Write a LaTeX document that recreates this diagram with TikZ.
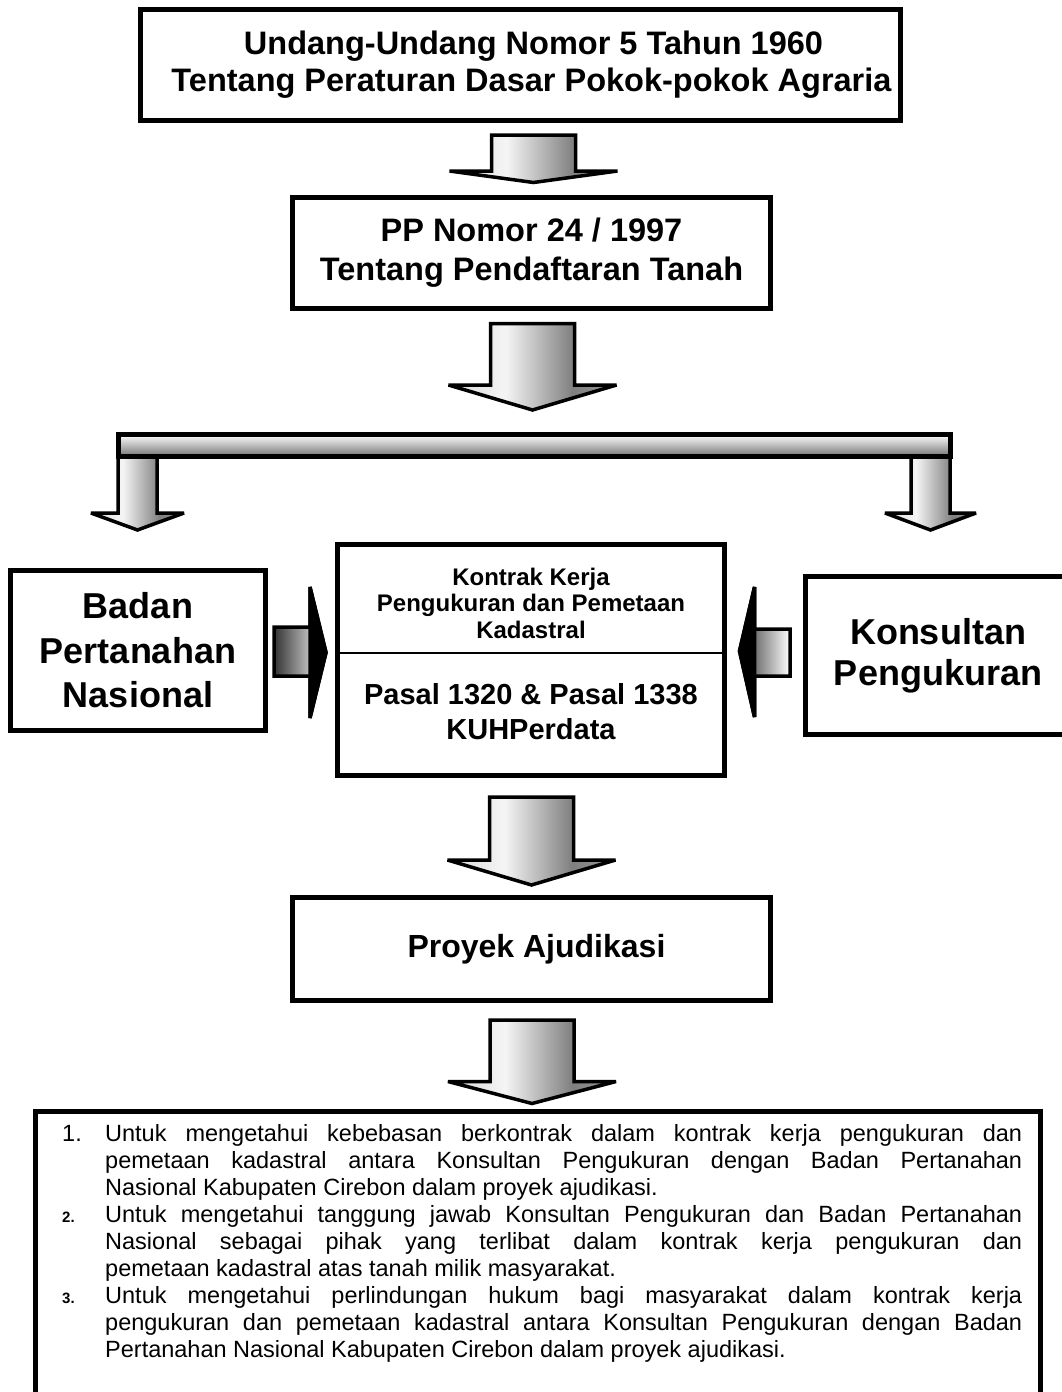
\documentclass[tikz,border=0pt]{standalone}
\usepackage{fontspec}
\setmainfont{Liberation Sans}
\usetikzlibrary{calc}

\pgfdeclarehorizontalshading{panahturun}{100bp}{color(0bp)=(black!15); color(25bp)=(black!15); color(42bp)=(black!4); color(62bp)=(black!50); color(75bp)=(black!40); color(100bp)=(black!40)}

\tikzset{
  kotak/.style={draw, line width=5pt, inner sep=0pt, align=center},
  panah/.style={draw, line width=3.5pt, line join=miter, miter limit=4, shade, shading=panahturun},
  panahsamping/.style={draw, line width=3.5pt, line join=miter, miter limit=4, left color=black!80, right color=white},
  kepala/.style={draw, fill=black, line width=3.5pt, line join=miter, miter limit=4},
}

% #1 asal, #2 tujuan, #3 jarak atas, #4 tinggi kepala, #5 jarak ujung, #6 geser x
\newcommand{\panahbawah}[6]{%
  \draw[panah] ($(#2.north |- #1.south)+(#6-42,#3)$) -- ($(#2.north |- #1.south)+(#6+42,#3)$)
    -- ($(#2.north)+(#6+42,-#5-#4)$) -- ($(#2.north)+(#6+84,-#5-#4)$) -- ($(#2.north)+(#6,-#5)$)
    -- ($(#2.north)+(#6-84,-#5-#4)$) -- ($(#2.north)+(#6-42,-#5-#4)$) -- cycle;}

\newcommand{\butir}[2]{\noindent\hangindent=43pt\hangafter=1\makebox[43pt][l]{#1}#2\par}

\begin{document}
\begin{tikzpicture}[x=1pt,y=-1pt]
\useasboundingbox (0,0) rectangle (1062,1392);

\node[kotak, minimum width=760, minimum height=111, font=\bfseries\fontsize{32.5}{37}\selectfont] (uu) at (520.5,65)
  {\hspace*{26pt}Undang-Undang Nomor 5 Tahun 1960\\\hspace*{22pt}Tentang Peraturan Dasar Pokok-pokok Agraria};
\node[kotak, minimum width=478, minimum height=111, font=\bfseries\fontsize{32.5}{39}\selectfont] (pp) at (531.5,252.5)
  {PP Nomor 24 / 1997\\Tentang Pendaftaran Tanah};
\node[kotak, minimum width=832, minimum height=22, top color=white, bottom color=black!55] (bar) at (534.5,445.5) {};

\node[kotak, minimum width=255, minimum height=160, font=\bfseries\fontsize{36}{44.5}\selectfont] (bpn) at (138,650.5)
  {Badan\\Pertanahan\\Nasional};
\node[kotak, minimum width=387, minimum height=231] (kontrak) at (531,660) {};
\node[kotak, minimum width=265, minimum height=158, font=\bfseries\fontsize{36}{41}\selectfont] (konsul) at (938,655.5)
  {Konsultan\\Pengukuran};
\node[kotak, minimum width=478, minimum height=103, font=\bfseries\fontsize{32}{38}\selectfont] (proyek) at (531.5,949)
  {\hspace*{10pt}Proyek Ajudikasi};
\node[kotak, minimum width=1005, minimum height=300] (tujuan) at (538,1261) {};

\coordinate (garis) at (0,653);
\draw[line width=1.2pt] (kontrak.west |- garis) -- (kontrak.east |- garis);
\node[align=center, inner sep=0pt, font=\bfseries\fontsize{24}{26.5}\selectfont] (kontrakatas) at (531,603)
  {Kontrak Kerja\\Pengukuran dan Pemetaan\\Kadastral};
\node[align=center, inner sep=0pt, font=\bfseries\fontsize{29}{35}\selectfont] (kontrakbawah) at (531,712)
  {Pasal 1320 \& Pasal 1338\\KUHPerdata};

\node[anchor=base west, inner sep=0pt, text width=960pt, align=justify, font=\fontsize{23.5}{27}\selectfont] (isi) at (62,1141) {%
\butir{1.}{Untuk mengetahui kebebasan berkontrak dalam kontrak kerja pengukuran dan\linebreak pemetaan kadastral antara Konsultan Pengukuran dengan Badan Pertanahan\linebreak Nasional Kabupaten Cirebon dalam proyek ajudikasi.}
\butir{{\bfseries\fontsize{15}{15}\selectfont 2.}}{Untuk mengetahui tanggung jawab Konsultan Pengukuran dan Badan Pertanahan\linebreak Nasional sebagai pihak yang terlibat dalam kontrak kerja pengukuran dan\linebreak pemetaan kadastral atas tanah milik masyarakat.}
\butir{{\bfseries\fontsize{15}{15}\selectfont 3.}}{Untuk mengetahui perlindungan hukum bagi masyarakat dalam kontrak kerja\linebreak pengukuran dan pemetaan kadastral antara Konsultan Pengukuran dengan Badan\linebreak Pertanahan Nasional Kabupaten Cirebon dalam proyek ajudikasi.}};

\panahbawah{uu}{pp}{12}{11.5}{12}{2}
\panahbawah{pp}{bar}{13}{25}{22}{-2}
\panahbawah{kontrak}{proyek}{19}{25}{10}{0}
\panahbawah{proyek}{tujuan}{17}{22}{5}{-6}

\draw[panah] ($(bar.south west)+(2,-4)$) -- ($(bar.south west)+(41,-4)$) -- ($(bar.south west)+(41,54)$)
  -- ($(bar.south west)+(68,54)$) -- ($(bar.south west)+(21.5,71)$) -- ($(bar.south west)+(-25,54)$)
  -- ($(bar.south west)+(2,54)$) -- cycle;
\draw[panah] ($(bar.south east)+(-42,-4)$) -- ($(bar.south east)+(-3,-4)$) -- ($(bar.south east)+(-3,54)$)
  -- ($(bar.south east)+(23,54)$) -- ($(bar.south east)+(-22.5,71)$) -- ($(bar.south east)+(-68,54)$)
  -- ($(bar.south east)+(-42,54)$) -- cycle;
\node[kotak, minimum width=832, minimum height=22, top color=white, bottom color=black!55] at (bar) {};

\draw[panahsamping] ($(bpn.east)+(6,-23.5)$) -- ($(bpn.east)+(42,-23.5)$) -- ($(bpn.east)+(42,-63.5)$)
  -- ($(kontrak.west)+(-9,-7.5)$) -- ($(bpn.east)+(42,67.5)$) -- ($(bpn.east)+(42,25.5)$)
  -- ($(bpn.east)+(6,25.5)$) -- cycle;
\draw[kepala] ($(bpn.east)+(42,-63.5)$) -- ($(kontrak.west)+(-9,-7.5)$) -- ($(bpn.east)+(42,67.5)$) -- cycle;
\draw[panahsamping] ($(konsul.west)+(-13,-26.5)$) -- ($(konsul.west)+(-48.5,-26.5)$) -- ($(konsul.west)+(-48.5,-68.5)$)
  -- ($(kontrak.east)+(12.5,-9)$) -- ($(konsul.west)+(-48.5,61.5)$) -- ($(konsul.west)+(-48.5,20.5)$)
  -- ($(konsul.west)+(-13,20.5)$) -- cycle;
\draw[kepala] ($(konsul.west)+(-48.5,-68.5)$) -- ($(kontrak.east)+(12.5,-9)$) -- ($(konsul.west)+(-48.5,61.5)$) -- cycle;
\end{tikzpicture}
\end{document}
